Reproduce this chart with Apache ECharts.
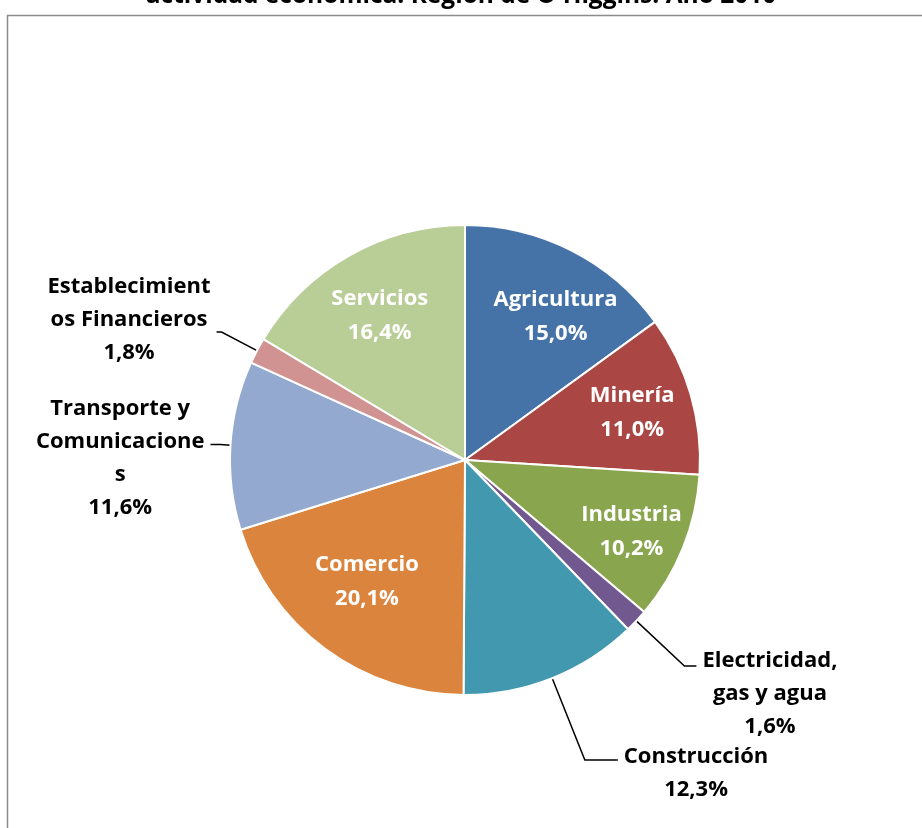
<!DOCTYPE html>
<html>
<head>
<meta charset="utf-8">
<script src="https://cdn.jsdelivr.net/npm/echarts@6/dist/echarts.min.js"></script>
<style>html,body{margin:0;padding:0;background:#fff}#c{width:922px;height:828px}</style>
</head>
<body>
<div id="c"></div>
<script>
var titleText = "actividad económica. Región de O'Higgins. Año 2010";
var categories = ["Agricultura", "Minería", "Industria", "Electricidad, gas y agua", "Construcción", "Comercio", "Transporte y Comunicaciones", "Establecimientos Financieros", "Servicios"];
var labelNames = ["Agricultura", "Minería", "Industria", "Electricidad,\ngas y agua", "Construcción", "Comercio", "Transporte y\nComunicacione\ns", "Establecimient\nos Financieros", "Servicios"];
var values = [15.0, 11.0, 10.2, 1.6, 12.3, 20.1, 11.6, 1.8, 16.4];
var colors = ["#4572A7", "#AA4643", "#89A54E", "#71588F", "#4198AF", "#DB843D", "#93A9CF", "#D19392", "#B9CD96"];
var outsideFlags = [false, false, false, true, true, false, true, true, false];

var FONT = "Open Sans";
var FS = 22;
function fmt(v) { return v.toFixed(1).replace('.', ',') + '%'; }

// outside label styling per item
var outsideCfg = {
  3: { length: 66, length2: 12, padding: [56, 0, 0, 0] },
  4: { length: 88, length2: 33, padding: [26, 0, 0, 0] },
  6: { length: 10, length2: 10, padding: [28, 0, 0, 0] },
  7: { length: 40, length2: 5, padding: [0, 0, 24, 0] }
};
// fine placement of inside labels
var insidePadding = {
  0: [22, 0, 0, 24],
  1: [2, 0, 0, 2],
  2: [14, 0, 0, 12],
  5: [0, 0, 34, 10],
  8: [12, 0, 0, 0]
};

function richLines(lines, style) {
  return lines.map(function (l) { return '{' + style + '|' + l + '}'; }).join('\n');
}

var mainData = categories.map(function (c, i) {
  var item = { name: c, value: values[i], itemStyle: { color: colors[i] } };
  if (outsideFlags[i]) {
    var cfg = outsideCfg[i];
    item.label = {
      show: true, position: 'outside', padding: cfg.padding,
      formatter: function () {
        return richLines(labelNames[i].split('\n').concat([fmt(values[i])]), 'c');
      }
    };
    item.labelLine = { show: true, length: cfg.length, length2: cfg.length2 };
  } else {
    item.label = { show: false };
    item.labelLine = { show: false };
  }
  return item;
});

var overlayData = categories.map(function (c, i) {
  var d = {
    name: c, value: values[i],
    itemStyle: { color: 'rgba(0,0,0,0)', borderWidth: 0 },
    label: { show: !outsideFlags[i] }
  };
  if (insidePadding[i]) d.label.padding = insidePadding[i];
  return d;
});

var chart = echarts.init(document.getElementById('c'), null, { renderer: 'canvas' });
chart.setOption({
  animation: false,
  backgroundColor: '#ffffff',
  title: {
    text: titleText, left: 'center', top: -21,
    textStyle: { fontFamily: FONT, fontWeight: 'bold', fontSize: 24.5, color: '#000' }
  },
  graphic: [{
    type: 'rect', left: 5, top: 13,
    shape: { width: 940, height: 840 },
    style: { fill: 'none', stroke: '#8c8c8c', lineWidth: 1.5 },
    silent: true, z: -10
  }],
  series: [{
    type: 'pie',
    center: [465, 460],
    radius: 235,
    startAngle: 90,
    clockwise: true,
    avoidLabelOverlap: false,
    labelLayout: { hideOverlap: false },
    silent: true,
    emphasis: { disabled: true },
    itemStyle: { borderColor: '#ffffff', borderWidth: 2 },
    label: {
      color: '#000', fontFamily: FONT, fontWeight: 'bold', fontSize: FS, lineHeight: 33,
      distanceToLabelLine: 6,
      rich: { c: { align: 'center', fontFamily: FONT, fontWeight: 'bold', fontSize: FS, lineHeight: 33, color: '#000' } }
    },
    labelLine: { lineStyle: { color: '#000', width: 1.5 }, smooth: false },
    data: mainData
  }, {
    type: 'pie',
    center: [465, 460],
    radius: [0, 340],
    startAngle: 90,
    clockwise: true,
    avoidLabelOverlap: false,
    labelLayout: { hideOverlap: false },
    silent: true,
    emphasis: { disabled: true },
    z: 5,
    label: {
      position: 'inside', color: '#fff', fontFamily: FONT, fontWeight: 'bold', fontSize: FS, lineHeight: 34,
      formatter: function (p) {
        return richLines([labelNames[p.dataIndex], fmt(values[p.dataIndex])], 'w');
      },
      rich: { w: { align: 'center', fontFamily: FONT, fontWeight: 'bold', fontSize: FS, lineHeight: 34, color: '#fff' } }
    },
    labelLine: { show: false },
    data: overlayData
  }]
});
</script>
</body>
</html>
